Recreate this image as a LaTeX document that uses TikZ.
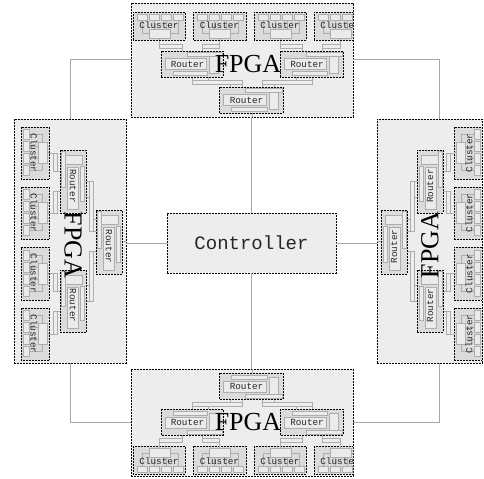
\documentclass[tikz,border=0pt]{standalone}
\usepackage{fontspec}
\setmonofont{Liberation Mono}
\newfontfamily\fpgafont{Liberation Serif}
\tikzset{
  dashedge/.style={draw=black, line width=0.7bp, dash pattern=on 1.8bp off 1.2bp},
  fpgabox/.style={dashedge, fill=black!7, inner sep=0pt, outer sep=0pt, rectangle},
  modbox/.style={dashedge, fill=black!14},
  part/.style={draw=black!32, line width=0.7bp, fill=black!8},
  wire/.style={draw=black!32, line width=0.7bp},
  link/.style={draw=black!35, line width=1bp},
  lbl/.style={font=\ttfamily\fontsize{9.3bp}{10bp}\selectfont, inner sep=0pt, text=black!85},
  fpgalbl/.style={font=\fpgafont\fontsize{26bp}{26bp}\selectfont, inner sep=0pt},
  ctrllbl/.style={font=\ttfamily\fontsize{19bp}{20bp}\selectfont, text=black!85},
}
% cluster: #1 name, #2 ua, #3 ub, #4 text rotation
\newcommand\mkcluster[4]{%
  \draw[modbox] (#2,77) rectangle (#3,105);
  \draw[wire] ({#2+9},97) -- ({#2+9},84) -- ({#2+45},84) -- ({#2+45},97)
              ({#2+21},97) -- ({#2+21},84) ({#2+33},97) -- ({#2+33},84)
              ({#2+26.5},77) -- ({#2+26.5},79);
  \foreach \k in {0,1,2,3}{\draw[part] ({#2+4+12*\k},97) rectangle ({#2+14+12*\k},103);}
  \draw[part] ({#2+16},79) rectangle ({#2+37},88);
  \node[lbl, rotate=#4] (#1) at ({(#2+#3)/2},92) {Cluster};
}
% router: #1 name, #2 ua, #3 ub, #4 va, #5 text rotation
\newcommand\mkrouter[5]{%
  \draw[modbox] (#2,#4) rectangle (#3,{#4+26});
  \draw[part] ({#2+4},{#4+8}) rectangle ({#3-17},{#4+19});
  \draw[part] ({#3-14},{#4+4}) rectangle ({#3-5},{#4+22});
  \draw[part] ({#2+12},{#4+2}) rectangle ({#3-16},{#4+6});
  \draw[part] ({#2+26},{#4+21}) rectangle ({#3-1},{#4+25});
  \node[lbl, rotate=#5] (#1) at ({(#2+#3)/2-4.5},{#4+13}) {Router};
}
% contents of one FPGA in its local frame: u along the row, v from the inner edge outward
\newcommand\fpgainside[2]{%
  \draw[wire] (0,0) -- (0,4);
  \draw[wire] (-60,33) rectangle (-10,37) (10,33) rectangle (60,37)
     (-60,37) -- (-60,40) (-44,37) -- (-44,40) (44,37) -- (44,40) (60,37) -- (60,40)
     (-10,33) -- (-10,30) (-22,33) -- (-22,30) (10,33) -- (10,30) (22,33) -- (22,30);
  \draw[wire] (-93,69) rectangle (-70,73) (-50,69) rectangle (-32.5,73)
     (28,69) rectangle (50,73) (70,69) rectangle (88,73)
     (-93,73) -- (-93,77) (-32.5,73) -- (-32.5,77) (28,73) -- (28,77) (88,73) -- (88,77)
     (-70,69) -- (-70,66) (-50,69) -- (-50,66) (50,69) -- (50,66) (70,69) -- (70,66);
  \mkrouter{#1r0}{-33}{31}{4}{#2}
  \mkrouter{#1r1}{-91}{-29}{40}{#2}
  \mkrouter{#1r2}{28}{91}{40}{#2}
  \mkcluster{#1c1}{-119}{-67}{#2}
  \mkcluster{#1c2}{-59}{-6}{#2}
  \mkcluster{#1c3}{2}{54}{#2}
  \mkcluster{#1c4}{62}{114}{#2}
  \node[fpgalbl, rotate=#2] (#1lbl) at (-4,53) {FPGA};
}
\begin{document}
\begin{tikzpicture}[x=1bp, y=-1bp]
\useasboundingbox (0,0) rectangle (484,479);
% boxes
\node[fpgabox, minimum width=222bp, minimum height=114bp] (tf) at (242,60) {};
\node[fpgabox, minimum width=222bp, minimum height=107bp] (bf) at (242,422.5) {};
\node[fpgabox, minimum width=112bp, minimum height=244bp] (lf) at (70,241) {};
\node[fpgabox, minimum width=105bp, minimum height=244bp] (rf) at (429.5,241) {};
\node[fpgabox, minimum width=169bp, minimum height=60bp, ctrllbl] (ctrl) at (251.5,243) {Controller};
\coordinate (rcol) at (439,0);
% links
\draw[link] (ctrl.north) -- (ctrl.north |- tf.south);
\draw[link] (ctrl.south) -- (ctrl.south |- bf.north);
\draw[link] (ctrl.west) -- (ctrl.west -| lf.east);
\draw[link] (ctrl.east) -- (ctrl.east -| rf.west);
\draw[link] (tf.west) -| (lf.north);
\draw[link] (lf.south) |- (bf.west);
\draw[link] (tf.east) -| (rcol |- rf.north);
\draw[link] (rcol |- rf.south) |- (bf.east);
% contents
\begin{scope}
  \clip (tf.south west) rectangle (tf.north east);
  \begin{scope}[cm={1,0,0,-1,(252,117)}]\fpgainside{t}{0}\end{scope}
\end{scope}
\begin{scope}
  \clip (bf.south west) rectangle (bf.north east);
  \begin{scope}[cm={1,0,0,1,(252,369)}]\fpgainside{b}{0}\end{scope}
\end{scope}
\begin{scope}
  \clip (lf.south west) rectangle (lf.north east);
  \begin{scope}[cm={0,1,1,0,(126,241)}]\fpgainside{l}{-90}\end{scope}
\end{scope}
\begin{scope}
  \clip (rf.south west) rectangle (rf.north east);
  \begin{scope}[cm={0,1,-1,0,(377,241)}]\fpgainside{r}{90}\end{scope}
\end{scope}
\end{tikzpicture}
\end{document}
